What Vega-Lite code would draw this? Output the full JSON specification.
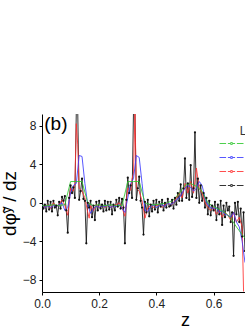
{
  "$schema": "https://vega.github.io/schema/vega-lite/v6.json",
  "width": 203,
  "height": 178,
  "autosize": {"type": "none"},
  "padding": {"left": 42, "top": 114, "right": 0, "bottom": 40},
  "config": {
    "view": {"stroke": null},
    "font": "Liberation Sans",
    "axis": {"grid": false, "domainColor": "#000", "tickColor": "#000", "labelColor": "#222", "titleColor": "#000", "labelFont": "Liberation Sans", "titleFont": "Liberation Sans", "titleFontWeight": "normal", "labelFontSize": 12, "tickSize": 3, "labelFlush": false, "labelOverlap": false}
  },
  "datasets": {
    "curves": [
      {"L":"80","x":0,"y":0.3},{"L":"80","x":0.005,"y":-0.6},{"L":"80","x":0.01,"y":-0.2},{"L":"80","x":0.015,"y":-0.9},{"L":"80","x":0.02,"y":0.2},{"L":"80","x":0.025,"y":-0.7},{"L":"80","x":0.03,"y":0.1},{"L":"80","x":0.035,"y":-0.9},{"L":"80","x":0.04,"y":0.2},{"L":"80","x":0.045,"y":-0.5},{"L":"80","x":0.05,"y":-0.3},{"L":"80","x":0.055,"y":-1.3},{"L":"80","x":0.06,"y":0.1},{"L":"80","x":0.065,"y":-0.6},{"L":"80","x":0.07,"y":0.6},{"L":"80","x":0.075,"y":0.2},{"L":"80","x":0.08,"y":0.7},{"L":"80","x":0.085,"y":-0.8},{"L":"80","x":0.09,"y":-3.1},{"L":"80","x":0.095,"y":0.5},{"L":"80","x":0.1,"y":1.8},{"L":"80","x":0.105,"y":1.0},{"L":"80","x":0.11,"y":1.6},{"L":"80","x":0.115,"y":0.5},{"L":"80","x":0.12,"y":9.5},{"L":"80","x":0.125,"y":9.5},{"L":"80","x":0.13,"y":0.3},{"L":"80","x":0.135,"y":1.2},{"L":"80","x":0.14,"y":2.5},{"L":"80","x":0.145,"y":0.4},{"L":"80","x":0.15,"y":0.2},{"L":"80","x":0.155,"y":-4.2},{"L":"80","x":0.16,"y":0.0},{"L":"80","x":0.165,"y":-0.5},{"L":"80","x":0.17,"y":0.2},{"L":"80","x":0.175,"y":-1.5},{"L":"80","x":0.18,"y":-0.3},{"L":"80","x":0.185,"y":-1.8},{"L":"80","x":0.19,"y":0.1},{"L":"80","x":0.195,"y":-0.8},{"L":"80","x":0.2,"y":0.2},{"L":"80","x":0.205,"y":-0.6},{"L":"80","x":0.21,"y":-0.2},{"L":"80","x":0.215,"y":-0.9},{"L":"80","x":0.22,"y":0.2},{"L":"80","x":0.225,"y":-0.8},{"L":"80","x":0.23,"y":0.1},{"L":"80","x":0.235,"y":-0.7},{"L":"80","x":0.24,"y":0.1},{"L":"80","x":0.245,"y":-1.2},{"L":"80","x":0.25,"y":-0.2},{"L":"80","x":0.255,"y":-0.8},{"L":"80","x":0.26,"y":0.3},{"L":"80","x":0.265,"y":-0.4},{"L":"80","x":0.27,"y":0.5},{"L":"80","x":0.275,"y":-0.6},{"L":"80","x":0.28,"y":0.4},{"L":"80","x":0.285,"y":-0.5},{"L":"80","x":0.29,"y":-4.2},{"L":"80","x":0.295,"y":0.3},{"L":"80","x":0.3,"y":2.6},{"L":"80","x":0.305,"y":1.0},{"L":"80","x":0.31,"y":1.8},{"L":"80","x":0.315,"y":0.5},{"L":"80","x":0.32,"y":9.5},{"L":"80","x":0.325,"y":9.5},{"L":"80","x":0.33,"y":0.3},{"L":"80","x":0.335,"y":1.5},{"L":"80","x":0.34,"y":2.7},{"L":"80","x":0.345,"y":0.2},{"L":"80","x":0.35,"y":-0.5},{"L":"80","x":0.355,"y":-3.3},{"L":"80","x":0.36,"y":0.1},{"L":"80","x":0.365,"y":-1.0},{"L":"80","x":0.37,"y":0.3},{"L":"80","x":0.375,"y":-1.4},{"L":"80","x":0.38,"y":-0.2},{"L":"80","x":0.385,"y":-0.9},{"L":"80","x":0.39,"y":0.2},{"L":"80","x":0.395,"y":-0.7},{"L":"80","x":0.4,"y":0.3},{"L":"80","x":0.405,"y":-1.0},{"L":"80","x":0.41,"y":0.1},{"L":"80","x":0.415,"y":-0.4},{"L":"80","x":0.42,"y":0.3},{"L":"80","x":0.425,"y":-0.8},{"L":"80","x":0.43,"y":0.0},{"L":"80","x":0.435,"y":-0.5},{"L":"80","x":0.44,"y":0.4},{"L":"80","x":0.445,"y":-0.4},{"L":"80","x":0.45,"y":-0.3},{"L":"80","x":0.455,"y":0.3},{"L":"80","x":0.46,"y":-0.6},{"L":"80","x":0.465,"y":0.5},{"L":"80","x":0.47,"y":-0.2},{"L":"80","x":0.475,"y":1.0},{"L":"80","x":0.48,"y":0.2},{"L":"80","x":0.485,"y":1.9},{"L":"80","x":0.49,"y":0.2},{"L":"80","x":0.495,"y":1.5},{"L":"80","x":0.5,"y":4.6},{"L":"80","x":0.505,"y":0.5},{"L":"80","x":0.51,"y":2.0},{"L":"80","x":0.515,"y":0.3},{"L":"80","x":0.52,"y":3.9},{"L":"80","x":0.525,"y":0.6},{"L":"80","x":0.53,"y":1.5},{"L":"80","x":0.535,"y":7.3},{"L":"80","x":0.54,"y":0.5},{"L":"80","x":0.545,"y":2.5},{"L":"80","x":0.55,"y":0.0},{"L":"80","x":0.555,"y":1.8},{"L":"80","x":0.56,"y":0.2},{"L":"80","x":0.565,"y":1.0},{"L":"80","x":0.57,"y":-0.5},{"L":"80","x":0.575,"y":0.5},{"L":"80","x":0.58,"y":-1.2},{"L":"80","x":0.585,"y":0.2},{"L":"80","x":0.59,"y":-1.3},{"L":"80","x":0.595,"y":-0.3},{"L":"80","x":0.6,"y":-0.8},{"L":"80","x":0.605,"y":0.1},{"L":"80","x":0.61,"y":-1.8},{"L":"80","x":0.615,"y":-0.2},{"L":"80","x":0.62,"y":-1.2},{"L":"80","x":0.625,"y":0.2},{"L":"80","x":0.63,"y":-2.3},{"L":"80","x":0.635,"y":-0.3},{"L":"80","x":0.64,"y":-1.5},{"L":"80","x":0.645,"y":0.0},{"L":"80","x":0.65,"y":-0.8},{"L":"80","x":0.655,"y":-0.4},{"L":"80","x":0.66,"y":-2.0},{"L":"80","x":0.665,"y":-1.0},{"L":"80","x":0.67,"y":-5.5},{"L":"80","x":0.675,"y":0.0},{"L":"80","x":0.68,"y":-1.2},{"L":"80","x":0.685,"y":0.1},{"L":"80","x":0.69,"y":-2.0},{"L":"80","x":0.695,"y":-0.6},{"L":"80","x":0.7,"y":-3.5},{"L":"80","x":0.705,"y":-1.0},{"L":"80","x":0.71,"y":-5.0},
      {"L":"40","x":0,"y":-0.2},{"L":"40","x":0.01,"y":-0.5},{"L":"40","x":0.02,"y":-0.2},{"L":"40","x":0.03,"y":-0.6},{"L":"40","x":0.04,"y":0.0},{"L":"40","x":0.05,"y":-0.4},{"L":"40","x":0.06,"y":-0.2},{"L":"40","x":0.07,"y":0.3},{"L":"40","x":0.08,"y":-0.3},{"L":"40","x":0.09,"y":-1.3},{"L":"40","x":0.1,"y":1.5},{"L":"40","x":0.11,"y":1.2},{"L":"40","x":0.115,"y":2.0},{"L":"40","x":0.12,"y":8.2},{"L":"40","x":0.125,"y":6.0},{"L":"40","x":0.13,"y":1.5},{"L":"40","x":0.14,"y":1.2},{"L":"40","x":0.15,"y":0.5},{"L":"40","x":0.16,"y":-1.0},{"L":"40","x":0.165,"y":-1.6},{"L":"40","x":0.17,"y":-0.3},{"L":"40","x":0.18,"y":-0.8},{"L":"40","x":0.19,"y":-0.2},{"L":"40","x":0.2,"y":-0.5},{"L":"40","x":0.21,"y":-0.2},{"L":"40","x":0.22,"y":-0.5},{"L":"40","x":0.23,"y":-0.2},{"L":"40","x":0.24,"y":-0.5},{"L":"40","x":0.25,"y":-0.3},{"L":"40","x":0.26,"y":-0.2},{"L":"40","x":0.27,"y":0.0},{"L":"40","x":0.28,"y":-0.5},{"L":"40","x":0.29,"y":-1.4},{"L":"40","x":0.3,"y":1.5},{"L":"40","x":0.31,"y":1.3},{"L":"40","x":0.315,"y":2.5},{"L":"40","x":0.32,"y":3.0},{"L":"40","x":0.325,"y":9.5},{"L":"40","x":0.33,"y":1.5},{"L":"40","x":0.34,"y":1.2},{"L":"40","x":0.35,"y":0.2},{"L":"40","x":0.36,"y":-1.6},{"L":"40","x":0.37,"y":-0.5},{"L":"40","x":0.38,"y":-0.3},{"L":"40","x":0.39,"y":-0.5},{"L":"40","x":0.4,"y":-0.3},{"L":"40","x":0.41,"y":-0.2},{"L":"40","x":0.42,"y":-0.5},{"L":"40","x":0.43,"y":-0.2},{"L":"40","x":0.44,"y":0.0},{"L":"40","x":0.45,"y":-0.3},{"L":"40","x":0.46,"y":0.0},{"L":"40","x":0.47,"y":0.5},{"L":"40","x":0.48,"y":1.0},{"L":"40","x":0.49,"y":0.5},{"L":"40","x":0.5,"y":2.0},{"L":"40","x":0.51,"y":1.0},{"L":"40","x":0.52,"y":2.2},{"L":"40","x":0.53,"y":1.0},{"L":"40","x":0.54,"y":3.6},{"L":"40","x":0.55,"y":1.5},{"L":"40","x":0.56,"y":1.0},{"L":"40","x":0.57,"y":0.0},{"L":"40","x":0.58,"y":-0.5},{"L":"40","x":0.59,"y":-0.8},{"L":"40","x":0.6,"y":-0.5},{"L":"40","x":0.61,"y":-1.2},{"L":"40","x":0.62,"y":-0.8},{"L":"40","x":0.63,"y":-1.5},{"L":"40","x":0.64,"y":-1.0},{"L":"40","x":0.65,"y":-1.3},{"L":"40","x":0.66,"y":-1.8},{"L":"40","x":0.67,"y":-1.0},{"L":"40","x":0.68,"y":-2.0},{"L":"40","x":0.69,"y":-1.5},{"L":"40","x":0.7,"y":-2.5},{"L":"40","x":0.705,"y":-9.2},
      {"L":"20","x":0,"y":-0.2},{"L":"20","x":0.01,"y":-0.5},{"L":"20","x":0.02,"y":-0.3},{"L":"20","x":0.03,"y":-0.5},{"L":"20","x":0.04,"y":-0.3},{"L":"20","x":0.05,"y":-0.4},{"L":"20","x":0.06,"y":-0.2},{"L":"20","x":0.07,"y":0.0},{"L":"20","x":0.08,"y":-0.8},{"L":"20","x":0.09,"y":-0.5},{"L":"20","x":0.1,"y":1.0},{"L":"20","x":0.11,"y":1.8},{"L":"20","x":0.12,"y":2.0},{"L":"20","x":0.13,"y":4.9},{"L":"20","x":0.14,"y":4.8},{"L":"20","x":0.15,"y":2.0},{"L":"20","x":0.16,"y":-0.2},{"L":"20","x":0.17,"y":-1.1},{"L":"20","x":0.18,"y":-0.6},{"L":"20","x":0.19,"y":-0.3},{"L":"20","x":0.2,"y":-0.5},{"L":"20","x":0.21,"y":-0.3},{"L":"20","x":0.22,"y":-0.4},{"L":"20","x":0.23,"y":-0.2},{"L":"20","x":0.24,"y":-0.5},{"L":"20","x":0.25,"y":-0.3},{"L":"20","x":0.26,"y":-0.4},{"L":"20","x":0.27,"y":-0.2},{"L":"20","x":0.28,"y":-0.6},{"L":"20","x":0.29,"y":-1.0},{"L":"20","x":0.3,"y":0.5},{"L":"20","x":0.31,"y":2.0},{"L":"20","x":0.32,"y":2.5},{"L":"20","x":0.33,"y":4.9},{"L":"20","x":0.34,"y":4.7},{"L":"20","x":0.35,"y":2.0},{"L":"20","x":0.36,"y":-0.8},{"L":"20","x":0.37,"y":-0.9},{"L":"20","x":0.38,"y":-0.4},{"L":"20","x":0.39,"y":-0.2},{"L":"20","x":0.4,"y":-0.5},{"L":"20","x":0.41,"y":-0.3},{"L":"20","x":0.42,"y":-0.2},{"L":"20","x":0.43,"y":-0.4},{"L":"20","x":0.44,"y":0.0},{"L":"20","x":0.45,"y":-0.2},{"L":"20","x":0.46,"y":0.0},{"L":"20","x":0.47,"y":0.3},{"L":"20","x":0.48,"y":0.5},{"L":"20","x":0.49,"y":1.0},{"L":"20","x":0.5,"y":1.5},{"L":"20","x":0.51,"y":1.8},{"L":"20","x":0.52,"y":1.6},{"L":"20","x":0.53,"y":1.2},{"L":"20","x":0.54,"y":1.5},{"L":"20","x":0.55,"y":2.2},{"L":"20","x":0.56,"y":1.8},{"L":"20","x":0.57,"y":0.5},{"L":"20","x":0.58,"y":-0.2},{"L":"20","x":0.59,"y":-0.5},{"L":"20","x":0.6,"y":-0.6},{"L":"20","x":0.61,"y":-0.5},{"L":"20","x":0.62,"y":-1.0},{"L":"20","x":0.63,"y":-0.8},{"L":"20","x":0.64,"y":-1.2},{"L":"20","x":0.65,"y":-1.3},{"L":"20","x":0.66,"y":-1.5},{"L":"20","x":0.67,"y":-1.0},{"L":"20","x":0.68,"y":-2.0},{"L":"20","x":0.69,"y":-2.5},{"L":"20","x":0.7,"y":-4.0},{"L":"20","x":0.71,"y":-6.2},
      {"L":"10","x":0,"y":-0.3},{"L":"10","x":0.02,"y":-0.3},{"L":"10","x":0.04,"y":-0.2},{"L":"10","x":0.06,"y":-0.3},{"L":"10","x":0.08,"y":-0.2},{"L":"10","x":0.1,"y":2.2},{"L":"10","x":0.12,"y":2.2},{"L":"10","x":0.14,"y":2.2},{"L":"10","x":0.16,"y":0.0},{"L":"10","x":0.18,"y":-0.3},{"L":"10","x":0.2,"y":-0.2},{"L":"10","x":0.22,"y":-0.3},{"L":"10","x":0.24,"y":-0.2},{"L":"10","x":0.26,"y":-0.3},{"L":"10","x":0.28,"y":-0.3},{"L":"10","x":0.3,"y":2.2},{"L":"10","x":0.32,"y":2.2},{"L":"10","x":0.34,"y":2.2},{"L":"10","x":0.36,"y":0.0},{"L":"10","x":0.38,"y":-0.2},{"L":"10","x":0.4,"y":-0.2},{"L":"10","x":0.42,"y":-0.1},{"L":"10","x":0.44,"y":0.0},{"L":"10","x":0.46,"y":0.3},{"L":"10","x":0.48,"y":1.0},{"L":"10","x":0.5,"y":1.8},{"L":"10","x":0.52,"y":2.0},{"L":"10","x":0.54,"y":1.7},{"L":"10","x":0.56,"y":1.2},{"L":"10","x":0.58,"y":0.0},{"L":"10","x":0.6,"y":-0.4},{"L":"10","x":0.62,"y":-0.7},{"L":"10","x":0.64,"y":-1.0},{"L":"10","x":0.66,"y":-1.6},{"L":"10","x":0.68,"y":-2.5},{"L":"10","x":0.7,"y":-3.3},{"L":"10","x":0.72,"y":-4.0}
    ]
  },
  "layer": [
    {
      "data": {"name": "curves"},
      "mark": {"type": "line", "strokeWidth": 1, "opacity": 0.85, "clip": true},
      "encoding": {
        "x": {"field": "x", "type": "quantitative", "scale": {"domain": [0, 0.71], "nice": false, "zero": false},
          "axis": {"values": [0, 0.1, 0.2, 0.3, 0.4, 0.5, 0.6, 0.7], "labelExpr": "round(datum.value*10)%2==0 ? format(datum.value,'.1f') : ''", "title": "z", "titleX": 143, "titleFontSize": 18, "titlePadding": 2, "labelPadding": 3}},
        "y": {"field": "y", "type": "quantitative", "scale": {"domain": [-9.25, 9.2], "nice": false, "zero": false},
          "axis": {"values": [-8, -6, -4, -2, 0, 2, 4, 6, 8], "labelExpr": "datum.value%4==0 ? datum.label : ''", "title": "dφ̃ʸ / dz", "titleFontSize": 19, "titleX": -27, "titleY": 89, "titleAngle": -90, "titleAlign": "center", "titleBaseline": "alphabetic", "labelPadding": 3}},
        "color": {"field": "L", "type": "nominal", "scale": {"domain": ["10", "20", "40", "80"], "range": ["#2fc82f", "#3a3aff", "#ff3030", "#111111"]},
          "legend": {"orient": "none", "legendX": 183, "legendY": 23, "title": null, "symbolType": "M-2,0H-0.9M-0.6,0H-0.2M0.2,0H0.6M0.9,0H2M-0.15,-0.15H0.15V0.15H-0.15Z", "symbolSize": 144, "symbolStrokeWidth": 1, "labelOffset": 40, "labelFontSize": 11, "rowPadding": 2, "padding": 0}}
      }
    },
    {
      "data": {"name": "curves"},
      "transform": [{"filter": "datum.L == '80'"}],
      "mark": {"type": "point", "filled": true, "size": 5, "color": "#111", "opacity": 1, "clip": true},
      "encoding": {
        "x": {"field": "x", "type": "quantitative"},
        "y": {"field": "y", "type": "quantitative"}
      }
    },
    {
      "data": {"values": [{"t": "(b)", "x": 0.008, "y": 8.2}]},
      "mark": {"type": "text", "align": "left", "baseline": "middle", "fontSize": 19, "font": "Liberation Sans", "fill": "#000"},
      "encoding": {
        "x": {"field": "x", "type": "quantitative"},
        "y": {"field": "y", "type": "quantitative"},
        "text": {"field": "t"}
      }
    },
    {
      "data": {"values": [{"t": "L", "x": 0.692, "y": 7.4}]},
      "mark": {"type": "text", "align": "left", "baseline": "middle", "fontSize": 12, "font": "Liberation Sans", "fill": "#333"},
      "encoding": {
        "x": {"field": "x", "type": "quantitative"},
        "y": {"field": "y", "type": "quantitative"},
        "text": {"field": "t"}
      }
    }
  ]
}
